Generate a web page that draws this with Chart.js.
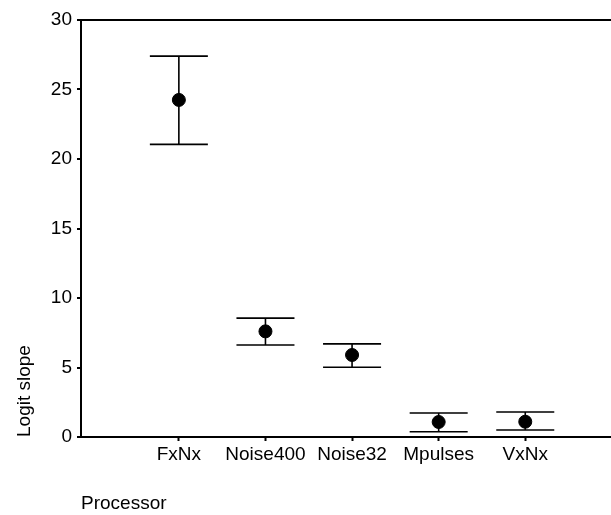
<!DOCTYPE html>
<html>
<head>
<meta charset="utf-8">
<script src="https://cdn.jsdelivr.net/npm/chart.js@4"></script>
<style>
  html, body { margin: 0; padding: 0; background: #fff; overflow: hidden; }
  canvas { display: block; }
</style>
</head>
<body>
<canvas id="slope-chart" width="611" height="515"></canvas>
<script>
const categories = ['FxNx', 'Noise400', 'Noise32', 'Mpulses', 'VxNx'];
const means = [24.25, 7.6, 5.9, 1.08, 1.1];
const upper = [27.4, 8.55, 6.7, 1.73, 1.8];
const lower = [21.05, 6.62, 5.02, 0.38, 0.5];
const yTicks = [0, 5, 10, 15, 20, 25, 30];

const FONT = "'Liberation Sans', Arial, sans-serif";

// error bars with caps, drawn through the chart scales
const errorBars = {
  id: 'errorBars',
  beforeDatasetsDraw(chart) {
    const ctx = chart.ctx;
    const xs = chart.scales.x;
    const ys = chart.scales.y;
    ctx.save();
    ctx.strokeStyle = '#000';
    ctx.lineWidth = 1.6;
    categories.forEach((c, i) => {
      const x = xs.getPixelForValue(i + 1);
      const xl = xs.getPixelForValue(i + 1 - 0.335);
      const xr = xs.getPixelForValue(i + 1 + 0.335);
      const yh = ys.getPixelForValue(upper[i]);
      const yl = ys.getPixelForValue(lower[i]);
      ctx.beginPath();
      ctx.moveTo(x, yh); ctx.lineTo(x, yl);
      ctx.moveTo(xl, yh); ctx.lineTo(xr, yh);
      ctx.moveTo(xl, yl); ctx.lineTo(xr, yl);
      ctx.stroke();
    });
    ctx.restore();
  }
};

const chart = new Chart(document.getElementById('slope-chart'), {
  type: 'scatter',
  data: {
    datasets: [{
      data: means.map((v, i) => ({ x: i + 1, y: v })),
      backgroundColor: '#000',
      borderColor: '#000',
      pointRadius: 6.5,
      pointHoverRadius: 6.5
    }]
  },
  options: {
    responsive: false,
    animation: false,
    devicePixelRatio: 1,
    layout: { autoPadding: false, padding: { top: 20, right: 0, bottom: 0, left: 0 } },
    plugins: {
      legend: { display: false },
      tooltip: { enabled: false }
    },
    scales: {
      x: {
        type: 'linear',
        min: -0.13,
        max: 5.99,
        afterBuildTicks: s => { s.ticks = categories.map((c, i) => ({ value: i + 1 })); },
        afterFit: s => { s.height = 78; },
        ticks: {
          callback: (v) => categories[v - 1],
          color: '#000',
          font: { family: FONT, size: 19 },
          padding: 2,
          maxRotation: 0,
          autoSkip: false
        },
        grid: { drawOnChartArea: false, tickLength: 4, tickColor: '#000', tickWidth: 2 },
        border: { color: '#000', width: 2 },
        title: {
          display: true,
          text: 'Processor',
          align: 'start',
          color: '#000',
          font: { family: FONT, size: 19 },
          padding: { top: 0, bottom: 0 }
        }
      },
      y: {
        min: 0,
        max: 30,
        afterBuildTicks: s => { s.ticks = yTicks.map(v => ({ value: v })); },
        afterFit: s => { s.width = 81; },
        ticks: {
          color: '#000',
          font: { family: FONT, size: 19 },
          padding: 5
        },
        grid: {
          drawOnChartArea: true,
          color: c => (c.tick && c.tick.value === 30 ? '#000' : 'rgba(0,0,0,0)'),
          lineWidth: c => (c.tick && c.tick.value === 30 ? 2 : 0),
          tickColor: '#000',
          tickLength: 4,
          tickWidth: 2
        },
        border: { color: '#000', width: 2 },
        title: {
          display: true,
          text: 'Logit slope',
          align: 'start',
          color: '#000',
          font: { family: FONT, size: 19 },
          padding: { top: 13, bottom: 0 }
        }
      }
    }
  },
  plugins: [errorBars]
});
</script>
</body>
</html>
